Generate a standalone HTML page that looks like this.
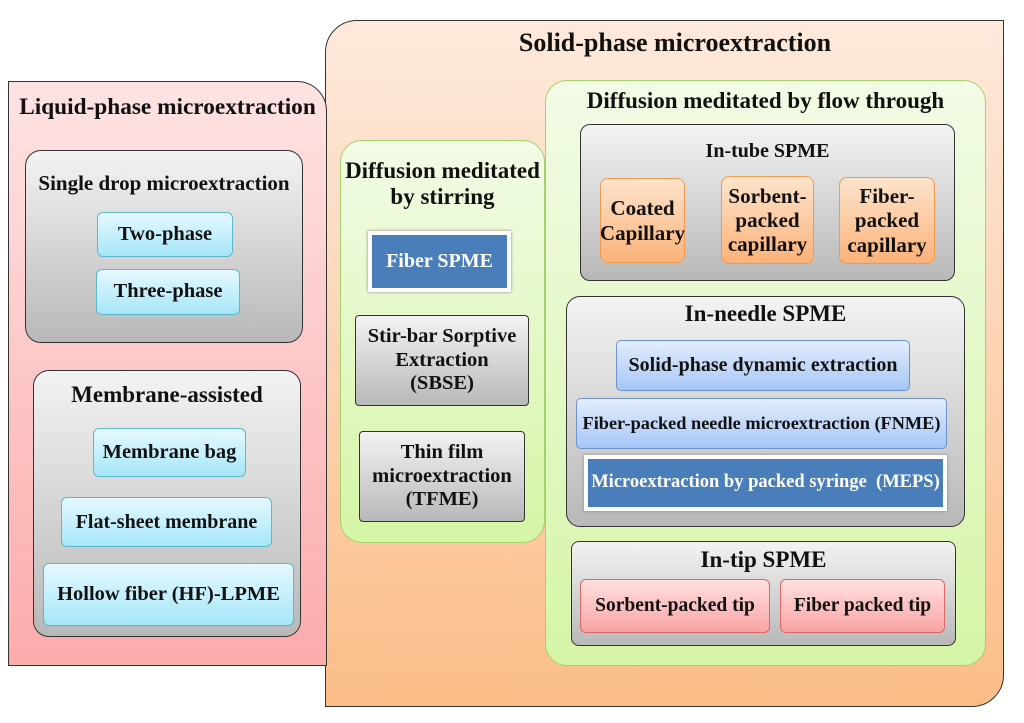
<!DOCTYPE html>
<html><head><meta charset="utf-8"><style>
body{margin:0;width:1024px;height:723px;background:#fff;position:relative;overflow:hidden;font-family:"Liberation Serif",serif;font-weight:bold;color:#111}
div{position:absolute;box-sizing:border-box}
.t{display:flex;align-items:center;justify-content:center;text-align:center;line-height:1.15;white-space:nowrap}
.gray{background:linear-gradient(#f3f3f3,#b8b8b8);border:1.5px solid #333;border-radius:16px}
.cyan{background:linear-gradient(#e6f9ff,#a6e6f8);border:1.5px solid #5cb8cf;border-radius:6px;font-size:20.5px}
.blue{background:linear-gradient(#e3edfd,#a7c6f5);border:1.5px solid #6a93cf;border-radius:5px;font-size:20px}
.dark{background:#4a7ebb;border:4px solid #fff;box-shadow:0 0 3px #888;color:#fff;font-size:20px}
.orange{background:linear-gradient(#fde4cc,#fbb27a);border:1.5px solid #f09a50;border-radius:8px;font-size:21px}
.red{background:linear-gradient(#ffe0e0,#f9a3a3);border:1.5px solid #d66;border-radius:6px;font-size:19.5px}
.green{background:linear-gradient(#f2fbe6,#d5f5a6);border:1.5px solid #a6d06a;border-radius:22px}
.lg{font-size:23px}
</style></head><body>
<div style="left:325px;top:20px;width:679px;height:687px;background:linear-gradient(#fde9dc,#fbbd88);border:1.5px solid #333;border-radius:32px 0 32px 0"></div>
<div style="left:8px;top:81px;width:319px;height:585px;background:linear-gradient(#fee3e3,#fcabab);border:1.5px solid #333;border-radius:0 30px 0 0"></div>
<div class="t" style="left:325px;top:26px;width:700px;height:34px;font-size:26px">Solid-phase microextraction</div>
<div class="t" style="left:8px;top:90px;width:319px;height:34px;font-size:23.3px">Liquid-phase microextraction</div>

<div class="gray" style="left:25px;top:150px;width:278px;height:193px"></div>
<div class="t" style="left:25px;top:170px;width:278px;height:26px;font-size:21px">Single drop microextraction</div>
<div class="t cyan" style="left:97px;top:212px;width:136px;height:45px">Two-phase</div>
<div class="t cyan" style="left:96px;top:269px;width:144px;height:46px">Three-phase</div>

<div class="gray" style="left:33px;top:370px;width:268px;height:267px"></div>
<div class="t lg" style="left:33px;top:382px;width:268px;height:26px">Membrane-assisted</div>
<div class="t cyan" style="left:93px;top:428px;width:153px;height:49px">Membrane bag</div>
<div class="t cyan" style="left:61px;top:497px;width:211px;height:50px;font-size:20px">Flat-sheet membrane</div>
<div class="t cyan" style="left:43px;top:563px;width:251px;height:63px">Hollow fiber (HF)-LPME</div>

<div class="green" style="left:340px;top:140px;width:205px;height:403px"></div>
<div class="t lg" style="left:340px;top:155px;width:205px;height:58px">Diffusion meditated<br>by stirring</div>
<div class="t dark" style="left:368px;top:231px;width:143px;height:61px">Fiber SPME</div>
<div class="t gray" style="left:355px;top:315px;width:174px;height:91px;border-radius:4px;font-size:20.5px">Stir-bar Sorptive<br>Extraction<br>(SBSE)</div>
<div class="t gray" style="left:359px;top:431px;width:166px;height:91px;border-radius:4px;font-size:20.5px">Thin film<br>microextraction<br>(TFME)</div>

<div class="green" style="left:545px;top:80px;width:441px;height:586px"></div>
<div class="t lg" style="left:545px;top:88px;width:441px;height:26px">Diffusion meditated by flow through</div>

<div class="gray" style="left:580px;top:124px;width:375px;height:157px;border-radius:10px"></div>
<div class="t" style="left:580px;top:139px;width:375px;height:24px;font-size:20px">In-tube SPME</div>
<div class="t orange" style="left:600px;top:178px;width:85px;height:85px">Coated<br>Capillary</div>
<div class="t orange" style="left:721px;top:176px;width:93px;height:88px">Sorbent-<br>packed<br>capillary</div>
<div class="t orange" style="left:839px;top:177px;width:96px;height:87px">Fiber-<br>packed<br>capillary</div>

<div class="gray" style="left:566px;top:296px;width:399px;height:231px;border-radius:14px"></div>
<div class="t lg" style="left:566px;top:300px;width:399px;height:28px">In-needle SPME</div>
<div class="t blue" style="left:616px;top:340px;width:294px;height:51px">Solid-phase dynamic extraction</div>
<div class="t blue" style="left:576px;top:398px;width:371px;height:51px;font-size:18.3px">Fiber-packed needle microextraction (FNME)</div>
<div class="t dark" style="left:584px;top:455px;width:363px;height:56px;font-size:18.5px">Microextraction by packed syringe&nbsp; (MEPS)</div>

<div class="gray" style="left:571px;top:541px;width:385px;height:105px;border-radius:8px"></div>
<div class="t lg" style="left:571px;top:546px;width:385px;height:28px">In-tip SPME</div>
<div class="t red" style="left:580px;top:579px;width:190px;height:54px">Sorbent-packed tip</div>
<div class="t red" style="left:780px;top:579px;width:165px;height:54px">Fiber packed tip</div>
</body></html>
